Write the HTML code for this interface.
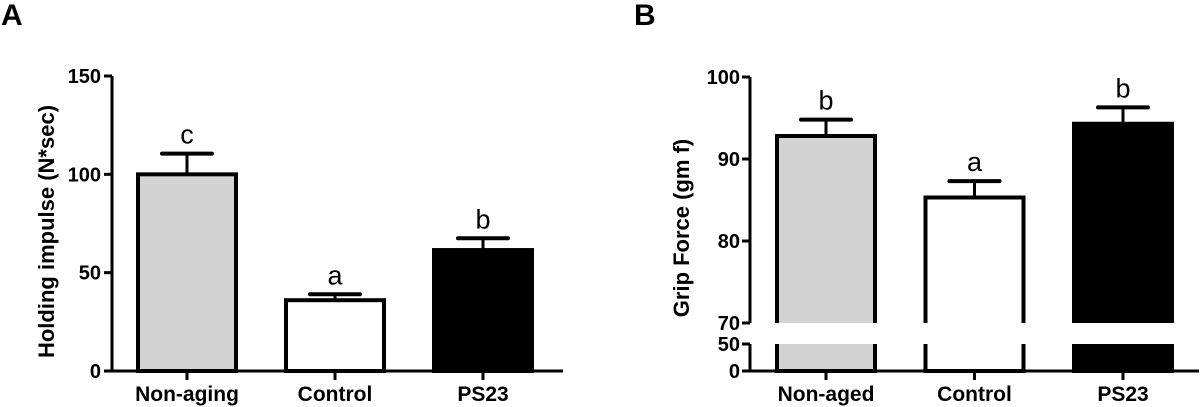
<!DOCTYPE html>
<html><head><meta charset="utf-8"><style>
html,body{margin:0;padding:0;background:#fff;}
svg{display:block;font-family:"Liberation Sans",Arial,sans-serif;}
.tk{font-size:20px;font-weight:bold;text-anchor:end;}
.xl{font-size:21px;font-weight:bold;text-anchor:middle;}
.sig{font-size:27px;text-anchor:middle;}
.yt{font-size:22px;font-weight:bold;text-anchor:middle;}
</style></head><body>
<svg id="fig" width="1200" height="407" viewBox="0 0 1200 407">
<text x="1" y="25" font-size="30" font-weight="bold">A</text>
<text x="634" y="25" font-size="30" font-weight="bold">B</text>
<g id="pa"></g>
<g id="pb"></g>
</svg>
<script>
// Panel A data
const catsA = ["Non-aging","Control","PS23"];
const valsA = [100, 36, 61.5];
const errA = [10.5, 3, 6];
const sigA = ["c","a","b"];
const ticksA = [0,50,100,150];
// Panel B data
const catsB = ["Non-aged","Control","PS23"];
const valsB = [92.8, 85.3, 94.3];
const errB = [2, 2, 2];
const sigB = ["b","a","b"];
const ticksBUpper = [70,80,90,100];
const ticksBLower = [0,50];

const fills = ["#d3d3d3","#ffffff","#000000"];
const NS="http://www.w3.org/2000/svg";
function mk(parent,tag,attrs){const e=document.createElementNS(NS,tag);for(const k in attrs)e.setAttribute(k,attrs[k]);parent.appendChild(e);return e;}

// ---- Panel A ----
(function(){
  const g=document.getElementById('pa');
  const ax=112, y0=371, yTop=76, xEnd=563;
  const ya=v=>y0-(v-0)/150*(y0-yTop);
  const xa=i=>187+i*148;
  const bw=98;
  let l=mk(g,'line',{x1:ax,y1:yTop,x2:ax,y2:y0+1.5,stroke:'#000','stroke-width':3});
  
  
  l=mk(g,'line',{x1:ax-1.5,y1:y0,x2:xEnd,y2:y0,stroke:'#000','stroke-width':3});
  
  
  ticksA.forEach(t=>{
    const tl=mk(g,'line',{x1:ax-8,y1:ya(t),x2:ax,y2:ya(t),stroke:'#000','stroke-width':3});
    
    
    const tx=mk(g,'text',{x:ax-11,y:ya(t)+7,class:'tk'});tx.textContent=t;
    
    
  });
  const yt=mk(g,'text',{x:0,y:0,class:'yt',transform:`translate(54,${(yTop+y0)/2+8}) rotate(-90)`});
  yt.textContent='Holding impulse (N*sec)';
  
  
  catsA.forEach((c,i)=>{
    const cx=xa(i), top=ya(valsA[i]), et=ya(valsA[i]+errA[i]);
    const st=mk(g,'line',{x1:cx,y1:top,x2:cx,y2:et,stroke:'#000','stroke-width':3});
    
    
    const cp=mk(g,'line',{x1:cx-25,y1:et,x2:cx+25,y2:et,stroke:'#000','stroke-width':4,'stroke-linecap':'round'});
    
    
    const b=mk(g,'rect',{x:cx-bw/2,y:top,width:bw,height:y0-top,fill:fills[i],stroke:'#000','stroke-width':4});
    
    
    const tk=mk(g,'line',{x1:cx,y1:y0,x2:cx,y2:y0+9,stroke:'#000','stroke-width':3});
    
    
    const xl=mk(g,'text',{x:cx,y:401,class:'xl'});xl.textContent=c;
    
    
    const sg=mk(g,'text',{x:cx,y:et-10,class:'sig'});sg.textContent=sigA[i];
    
    
  });
})();

// ---- Panel B ----
(function(){
  const g=document.getElementById('pb');
  const ax=750, y0=371, xEnd=1199;
  const yU=v=>323-(v-70)/30*(323-77);   // upper segment 70..100
  const yL=v=>y0-(v/50)*(y0-344);       // lower segment 0..50
  const xb=i=>826+i*148.5;
  const bw=98;
  let l=mk(g,'line',{x1:ax,y1:77,x2:ax,y2:323,stroke:'#000','stroke-width':3});
  
  
  l=mk(g,'line',{x1:ax,y1:344,x2:ax,y2:y0,stroke:'#000','stroke-width':3});
  
  
  l=mk(g,'line',{x1:ax-1.5,y1:y0,x2:xEnd,y2:y0,stroke:'#000','stroke-width':3});
  
  
  const addTick=(y,t)=>{
    const tl=mk(g,'line',{x1:ax-8,y1:y,x2:ax,y2:y,stroke:'#000','stroke-width':3});
    
    
    const tx=mk(g,'text',{x:ax-10,y:y+7,class:'tk'});tx.textContent=t;
    
    
  };
  ticksBUpper.forEach(t=>addTick(yU(t),t));
  ticksBLower.forEach(t=>addTick(yL(t),t));
  const yt=mk(g,'text',{x:0,y:0,class:'yt',transform:`translate(689,${(77+371)/2+4}) rotate(-90)`});
  yt.textContent='Grip Force (gm f)';
  
  
  catsB.forEach((c,i)=>{
    const cx=xb(i), top=yU(valsB[i]), et=yU(valsB[i]+errB[i]);
    const x1=cx-bw/2, x2=cx+bw/2;
    const st=mk(g,'line',{x1:cx,y1:top,x2:cx,y2:et,stroke:'#000','stroke-width':3});
    
    
    const cp=mk(g,'line',{x1:cx-25,y1:et,x2:cx+25,y2:et,stroke:'#000','stroke-width':4,'stroke-linecap':'round'});
    
    
    const b1=mk(g,'path',{d:`M${x1},323 L${x1},${top} L${x2},${top} L${x2},323`,fill:fills[i],stroke:'#000','stroke-width':4});
    
    
    const b2=mk(g,'path',{d:`M${x1},344 L${x1},${y0} L${x2},${y0} L${x2},344`,fill:fills[i],stroke:'#000','stroke-width':4});
    
    
    const tk=mk(g,'line',{x1:cx,y1:y0,x2:cx,y2:y0+9,stroke:'#000','stroke-width':3});
    
    
    const xl=mk(g,'text',{x:cx,y:401,class:'xl'});xl.textContent=c;
    
    
    const sg=mk(g,'text',{x:cx,y:et-10,class:'sig'});sg.textContent=sigB[i];
    
    
  });
})();
</script>
</body></html>
